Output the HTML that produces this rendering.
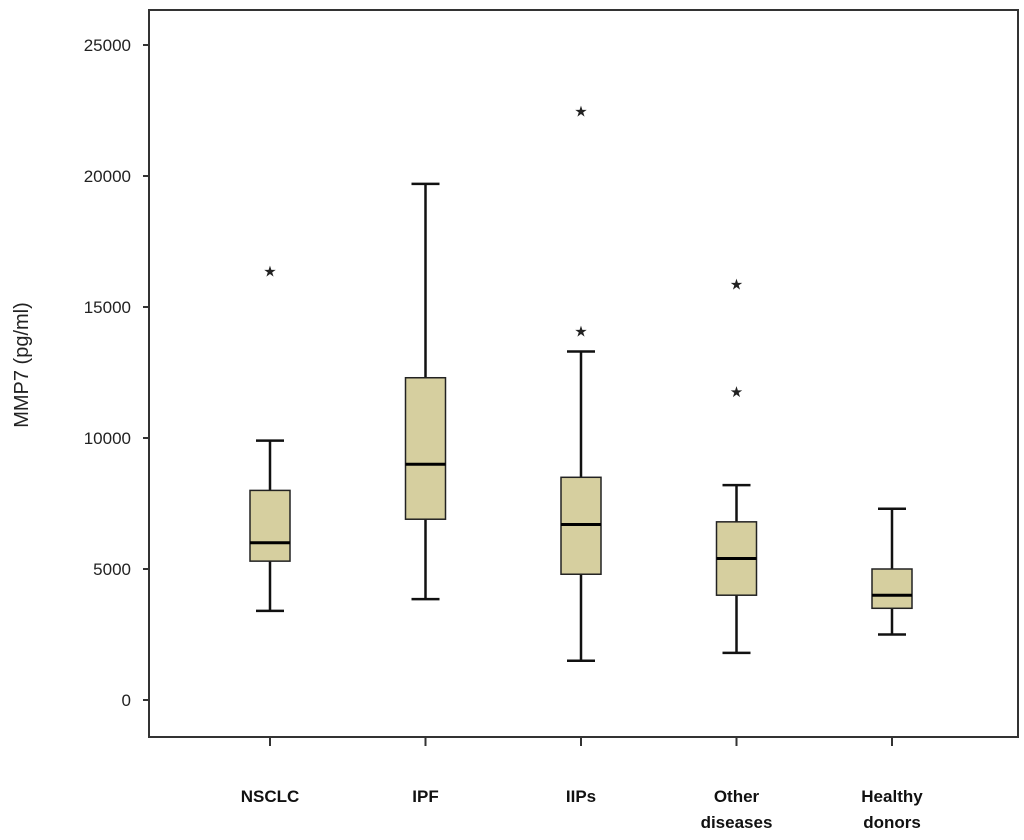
<!DOCTYPE html>
<html><head><meta charset="utf-8"><style>
body{margin:0;background:#fff;}
svg{display:block;font-family:"Liberation Sans",sans-serif;}
</style></head><body>
<svg id="chart" width="1024" height="840">
<rect x="149" y="10" width="869" height="727" fill="none" stroke="#333" stroke-width="2"/>
<text x="28" y="365" font-size="20" fill="#222" text-anchor="middle" transform="rotate(-90 28 365)">MMP7 (pg/ml)</text>
</svg>
<script>
const categories = [["NSCLC"],["IPF"],["IIPs"],["Other","diseases"],["Healthy","donors"]];
const whiskerLow = [3400,3850,1500,1800,2500];
const q1 = [5300,6900,4800,4000,3500];
const medians = [6000,9000,6700,5400,4000];
const q3 = [8000,12300,8500,6800,5000];
const whiskerHigh = [9900,19700,13300,8200,7300];
const outliers = [[16400],[],[22500,14100],[15900,11800],[]];
const yTicks = [0,5000,10000,15000,20000,25000];

const svg = document.getElementById('chart');
const NS = 'http://www.w3.org/2000/svg';
const y = v => 700 - v * 0.0262;
const x = i => 270 + i * 155.5;
function mk(tag, attrs, parent){const e=document.createElementNS(NS,tag);for(const k in attrs)e.setAttribute(k,attrs[k]);(parent||svg).appendChild(e);return e;}

yTicks.forEach(t=>{
  const g=mk('g',{});
  
  
  mk('line',{x1:143,x2:149,y1:y(t),y2:y(t),stroke:'#333','stroke-width':2},g);
  const tx=mk('text',{x:131,y:y(t)+6,'font-size':17,'text-anchor':'end',fill:'#222'},g);
  tx.textContent=t;
});

categories.forEach((c,i)=>{
  const cx=x(i);
  const g=mk('g',{});
  
  
  mk('line',{x1:cx,x2:cx,y1:737,y2:746,stroke:'#333','stroke-width':2},g);
  mk('line',{x1:cx,x2:cx,y1:y(whiskerLow[i]),y2:y(whiskerHigh[i]),stroke:'#111','stroke-width':2.5},g);
  mk('line',{x1:cx-14,x2:cx+14,y1:y(whiskerLow[i]),y2:y(whiskerLow[i]),stroke:'#111','stroke-width':2.5},g);
  mk('line',{x1:cx-14,x2:cx+14,y1:y(whiskerHigh[i]),y2:y(whiskerHigh[i]),stroke:'#111','stroke-width':2.5},g);
  mk('rect',{x:cx-20,y:y(q3[i]),width:40,height:y(q1[i])-y(q3[i]),fill:'#d6cf9f',stroke:'#222','stroke-width':1.5},g);
  mk('line',{x1:cx-20,x2:cx+20,y1:y(medians[i]),y2:y(medians[i]),stroke:'#000','stroke-width':3},g);
  outliers[i].forEach(o=>{
    const s=mk('text',{x:cx,y:y(o)+6,'font-size':15,'text-anchor':'middle',fill:'#222'},g);
    
    
    s.textContent='★';
  });
  c.forEach((line,j)=>{
    const t=mk('text',{x:cx,y:802+j*26,'font-size':17,'font-weight':'bold','text-anchor':'middle',fill:'#111'});
    
    
    t.textContent=line;
  });
});
</script>
</body></html>
